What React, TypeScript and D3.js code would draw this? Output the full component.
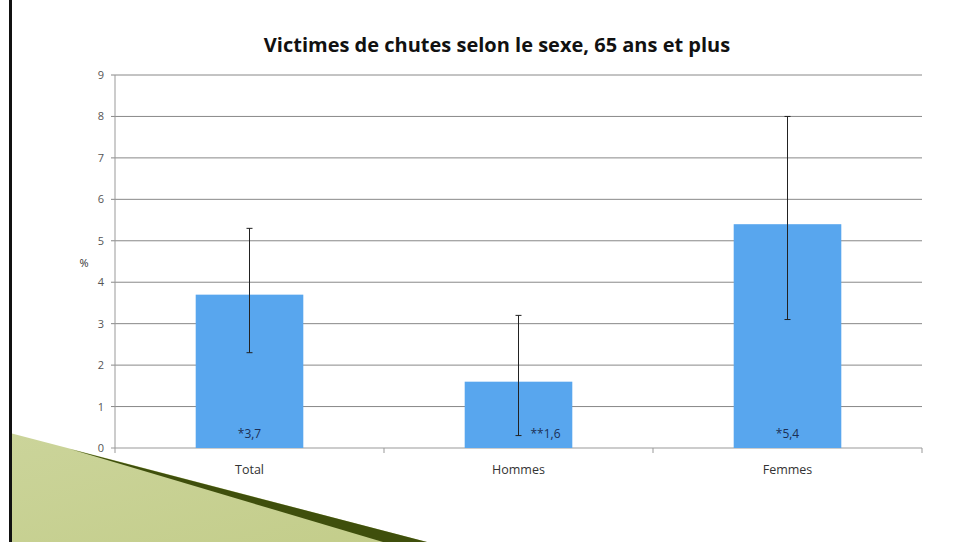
import React from "react";
import * as d3 from "d3";

const categories = ["Total", "Hommes", "Femmes"];
const values = [3.7, 1.6, 5.4];
const lowerCI = [2.3, 0.3, 3.1];
const upperCI = [5.3, 3.2, 8.0];
const valueLabels = ["*3,7", "**1,6", "*5,4"];
const labelShift = [0, 27, 0];
const yTicks = [0, 1, 2, 3, 4, 5, 6, 7, 8, 9];

const W = 975;
const H = 542;
const left = 115;
const right = 922;
const top = 75;
const bottom = 448;

export default function App() {
  const x = d3.scaleBand<string>().domain(categories).range([left, right]).paddingInner(0).paddingOuter(0);
  const y = d3.scaleLinear().domain([0, 9]).range([bottom, top]);
  const bw = x.bandwidth() * 0.4;
  const font = "'Open Sans', 'Liberation Sans', sans-serif";

  return (
    <svg width={W} height={H} style={{ position: "absolute", left: 0, top: 0, background: "#fff" }}>
      <defs>
        <linearGradient id="lg" x1="0" y1="0" x2="1" y2="1">
          <stop offset="0" stopColor="#cbd49a" />
          <stop offset="1" stopColor="#c3cd8a" />
        </linearGradient>
      </defs>
      <rect x={0} y={0} width={W} height={H} fill="#fff" />
      {/* decoration */}
      <polygon points="10,433 427,542 10,542" fill="url(#lg)" />
      <polygon points="70,449 427,542 383,542" fill="#3f4f0c" />
      <rect x={9} y={0} width={3} height={H} fill="#111" />

      <text x={497} y={52} textAnchor="middle" fontFamily={font} fontWeight={700} fontSize={20} fill="#111">
        Victimes de chutes selon le sexe, 65 ans et plus
      </text>

      {yTicks.map((t) => (
        <g key={t}>
          <line x1={left - 4} x2={right} y1={y(t)} y2={y(t)} stroke={t === 0 ? "#999" : "#888"} strokeWidth={1} />
          <text x={104} y={y(t) + 4} textAnchor="end" fontFamily={font} fontSize={11} fill="#555">
            {t}
          </text>
        </g>
      ))}
      <line x1={left} x2={left} y1={top} y2={bottom} stroke="#999" />
      {[0, 1, 2, 3].map((i) => {
        const xx = left + i * x.step();
        return <line key={i} x1={xx} x2={xx} y1={bottom} y2={bottom + 5} stroke="#999" />;
      })}
      <text x={84} y={267} textAnchor="middle" fontFamily={font} fontSize={11} fill="#333">%</text>

      {categories.map((c, i) => {
        const cx = (x(c) as number) + x.bandwidth() / 2;
        return (
          <g key={c}>
            <rect x={cx - bw / 2} y={y(values[i])} width={bw} height={y(0) - y(values[i])} fill="#58a6ee" />
            <line x1={cx} x2={cx} y1={y(upperCI[i])} y2={y(lowerCI[i])} stroke="#222" strokeWidth={1} />
            <line x1={cx - 3} x2={cx + 3} y1={y(upperCI[i])} y2={y(upperCI[i])} stroke="#222" />
            <line x1={cx - 3} x2={cx + 3} y1={y(lowerCI[i])} y2={y(lowerCI[i])} stroke="#222" />
            <text x={cx + labelShift[i]} y={438} textAnchor="middle" fontFamily={font} fontSize={12} fill="#1c2f55">
              {valueLabels[i]}
            </text>
            <text x={cx} y={474} textAnchor="middle" fontFamily={font} fontSize={12.5} fill="#333">
              {c}
            </text>
          </g>
        );
      })}
    </svg>
  );
}
